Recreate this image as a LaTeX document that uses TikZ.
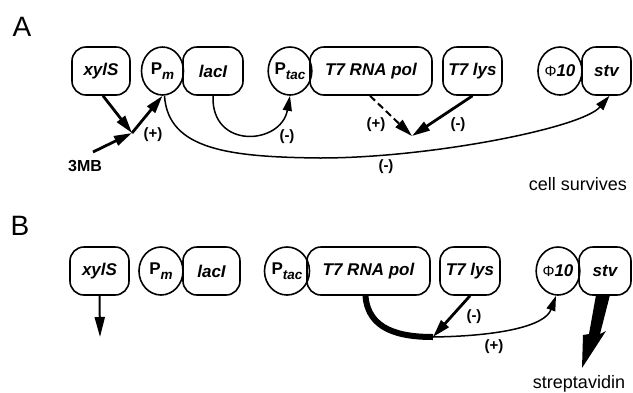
\documentclass[tikz,border=0pt]{standalone}
\usepackage{fontspec}
\setmainfont{Liberation Sans}
\usetikzlibrary{arrows.meta,shapes.geometric}
\tikzset{
  gene/.style={draw,line width=1.6pt,rounded corners=14pt,minimum height=48pt,inner sep=0pt,
    font=\fontsize{17}{18}\selectfont\bfseries\itshape},
  prom/.style={draw,ellipse,line width=1.6pt,minimum width=42pt,minimum height=48pt,inner sep=0pt,
    font=\fontsize{17}{18}\selectfont\bfseries},
  act/.style={line width=2.8pt,-{Triangle[length=18pt,width=10pt]}},
  reg/.style={line width=1.5pt,-{Triangle[length=15pt,width=9pt]}},
  sgn/.style={font=\fontsize{15}{15}\selectfont\bfseries},
  panel/.style={font=\fontsize{28}{28}\selectfont}
}
\newcommand{\subit}[1]{\raisebox{-5pt}{\fontsize{13.5}{13.5}\selectfont\itshape #1}}
\newcommand{\phiten}{{\fontsize{15}{15}\selectfont\mdseries\upshape\char"03A6}10}
\begin{document}
\begin{tikzpicture}[x=1pt,y=-1pt]
  \useasboundingbox (0,0) rectangle (633,392);
  % panel A
  \node[panel] (labA) at (22,27) {A};
  \node[gene,minimum width=58pt] (xylSA) at (101,71) {xylS};
  \node[prom] (PmA) at (162.5,71) {P\subit{m}};
  \node[gene,minimum width=60pt] (lacIA) at (213,71) {lacI};
  \node[prom] (PtacA) at (290,71) {P\subit{tac}};
  \node[gene,minimum width=122pt] (polA) at (371,71) {T7 RNA pol};
  \node[gene,minimum width=59pt] (lysA) at (472.5,71) {T7 lys};
  \node[prom,minimum width=44pt,font=\fontsize{17}{18}\selectfont\bfseries\itshape] (phiA) at (560,71) {\phiten};
  \node[gene,minimum width=49pt] (stvA) at (606.5,71) {stv};
  \coordinate (jA) at (132,133);
  \coordinate (mbA) at (93,152);
  \coordinate (kA) at (412,136);
  \node[font=\fontsize{16}{16}\selectfont\bfseries] (mb) at (85,166) {3MB};
  \draw[act] ([xshift=2pt]xylSA.south) -- (jA);
  \draw[act] (mbA) -- (jA);
  \draw[act] (jA) -- (PmA.south);
  \draw[reg] ([xshift=2pt]PmA.south) .. controls (168,150) and (230,157) .. (320,158)
    .. controls (430,158) and (582,128) .. ([xshift=3pt]stvA.south);
  \draw[reg] (lacIA.south) .. controls (211,150) and (281,145) .. (PtacA.south);
  \draw[act,line width=2pt,dash pattern=on 7pt off 4pt] ([xshift=-1pt]polA.south) -- (kA);
  \draw[act] (lysA.south) -- (kA);
  \node[sgn] (sA1) at (153,135) {(+)};
  \node[sgn] (sA2) at (287,137) {(-)};
  \node[sgn] (sA3) at (376,125) {(+)};
  \node[sgn] (sA4) at (458,125) {(-)};
  \node[sgn] (sA5) at (386,167) {(-)};
  \node[font=\fontsize{18}{18}\selectfont,anchor=base] (surv) at (578,190) {cell survives};
  % panel B
  \node[panel] (labB) at (20,226) {B};
  \node[gene,minimum width=59pt] (xylSB) at (99.5,271) {xylS};
  \node[prom,minimum width=44pt] (PmB) at (161,271) {P\subit{m}};
  \node[gene,minimum width=57pt] (lacIB) at (211.5,271) {lacI};
  \node[prom,minimum width=45pt] (PtacB) at (287,271) {P\subit{tac}};
  \node[gene,minimum width=123pt] (polB) at (368.5,271) {T7 RNA pol};
  \node[gene,minimum width=60pt] (lysB) at (470,271) {T7 lys};
  \node[prom,minimum width=43pt,font=\fontsize{17}{18}\selectfont\bfseries\itshape] (phiB) at (558,271) {\phiten};
  \node[gene,minimum width=52pt] (stvB) at (605,271) {stv};
  \coordinate (xB) at (100,337);
  \coordinate (lB) at (433,337);
  \draw[line width=2pt,-{Triangle[length=20pt,width=10pt]}] (xylSB.south) -- (xB);
  \draw[line width=6pt] ([xshift=-3pt]polB.south) .. controls (368,330) and (400,337) .. (lB);
  \draw[reg] (lB) .. controls (500,336) and (545,326) .. ([xshift=-2pt]phiB.south);
  \draw[act] (lysB.south) -- (lB);
  \fill (596,295) -- (610,295) -- (600,334) -- (606,331) -- (582,368) -- (583,335) -- (589,334) -- cycle;
  \node[sgn] (sB1) at (474,317) {(-)};
  \node[sgn] (sB2) at (494,347) {(+)};
  \node[font=\fontsize{18}{18}\selectfont,anchor=base] (strep) at (579,388) {streptavidin};
\end{tikzpicture}
\end{document}
